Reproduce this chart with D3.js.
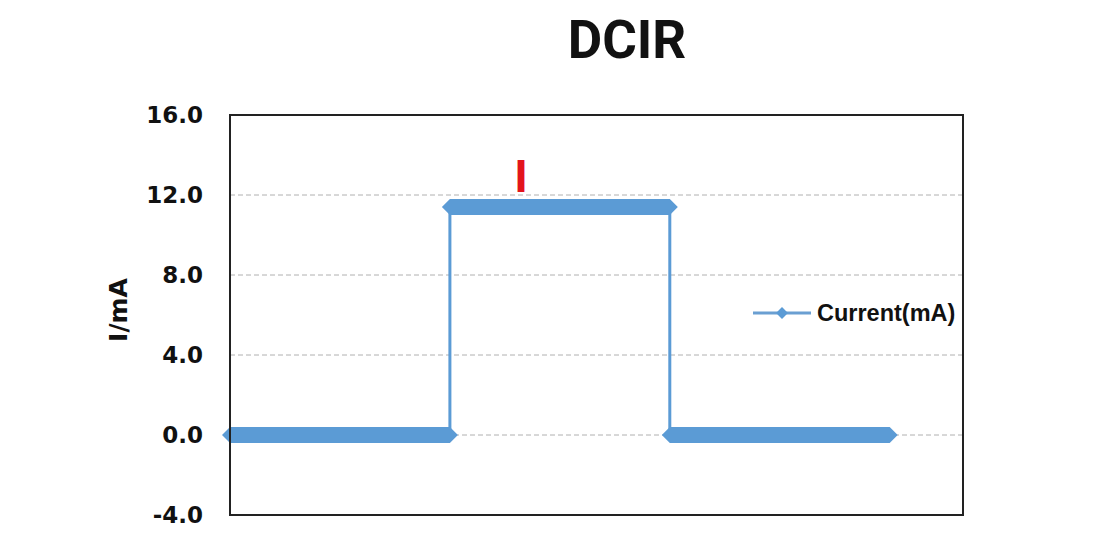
<!DOCTYPE html>
<html>
<head>
<meta charset="utf-8">
<script src="https://cdn.jsdelivr.net/npm/d3@7"></script>
<style>
  html, body { margin: 0; padding: 0; background: #fff; }
  svg { display: block; }
</style>
</head>
<body>
<svg id="chart" width="1100" height="542"></svg>
<script>
// ---- data ----
const title = "DCIR";
const yAxisTitle = "I/mA";
const seriesName = "Current(mA)";
const annotation = "I";
const timeSec = [0, 30, 30, 60, 60, 90];          // step corners (s)
const currentMA = [0, 0, 11.4, 11.4, 0, 0];       // current (mA)
const yTicks = [-4, 0, 4, 8, 12, 16];
const annotationPoint = [39.7, 11.4];

// ---- layout ----
const svg = d3.select("#chart");
const m = { left: 230, right: 963, top: 115, bottom: 515 };
const x = d3.scaleLinear().domain([0, 100]).range([m.left, m.right]);
const y = d3.scaleLinear().domain([-4, 16]).range([m.bottom, m.top]);
const blue = "#5b9bd5";

// title
svg.append("text")
  .attr("x", 627).attr("y", 58)
  .attr("text-anchor", "middle")
  .style("font-family", "Roboto, 'Liberation Sans', sans-serif")
  .style("font-weight", "bold")
  .style("font-size", "53px")
  .attr("fill", "#111")
  .text(title);

// gridlines
svg.append("g").selectAll("line")
  .data(yTicks.filter(d => d > -4 && d < 16))
  .join("line")
  .attr("x1", m.left).attr("x2", m.right)
  .attr("y1", d => y(d)).attr("y2", d => y(d))
  .attr("stroke", "#b0b0b0")
  .attr("stroke-width", 1)
  .attr("stroke-dasharray", "5,3");

// y axis labels
const yAxis = d3.axisLeft(y).tickValues(yTicks).tickFormat(d => d.toFixed(1)).tickSize(0).tickPadding(27);
const gy = svg.append("g").attr("transform", `translate(${m.left},0)`).call(yAxis);
gy.select(".domain").remove();
gy.selectAll("text")
  .style("font-family", "'DejaVu Sans', sans-serif")
  .style("font-weight", "bold")
  .style("font-size", "23px")
  .attr("fill", "#111");

// y axis title
svg.append("text")
  .attr("transform", "translate(127,310) rotate(-90)")
  .attr("text-anchor", "middle")
  .style("font-family", "'DejaVu Sans', sans-serif")
  .style("font-weight", "bold")
  .style("font-size", "25px")
  .attr("fill", "#111")
  .text(yAxisTitle);

// series: thin connecting line
const pts = timeSec.map((t, i) => [t, currentMA[i]]);
svg.append("path")
  .datum(pts)
  .attr("fill", "none")
  .attr("stroke", blue)
  .attr("stroke-width", 3)
  .attr("d", d3.line().x(d => x(d[0])).y(d => y(d[1])));

// dense diamond markers along each flat run -> swept diamond band
const runs = [];
for (let i = 0; i < pts.length - 1; i++) {
  if (pts[i][1] === pts[i + 1][1]) runs.push([pts[i], pts[i + 1]]);
}
const hs = 8;
svg.append("g").selectAll("path")
  .data(runs)
  .join("path")
  .attr("fill", blue)
  .attr("d", r => {
    const x1 = x(r[0][0]), x2 = x(r[1][0]), yy = y(r[0][1]);
    return `M${x1 - hs},${yy} L${x1},${yy - hs} L${x2},${yy - hs} L${x2 + hs},${yy} L${x2},${yy + hs} L${x1},${yy + hs} Z`;
  });

// plot border
svg.append("rect")
  .attr("x", m.left).attr("y", m.top)
  .attr("width", m.right - m.left).attr("height", m.bottom - m.top)
  .attr("fill", "none").attr("stroke", "#222").attr("stroke-width", 2);

// annotation
svg.append("text")
  .attr("x", x(annotationPoint[0])).attr("y", y(annotationPoint[1]) - 15)
  .attr("text-anchor", "middle")
  .style("font-family", "'Liberation Sans', Arial, sans-serif")
  .style("font-weight", "bold")
  .style("font-size", "47px")
  .attr("fill", "#e3141c")
  .text(annotation);

// legend
const lg = svg.append("g");
lg.append("line").attr("x1", 753).attr("x2", 811).attr("y1", 313).attr("y2", 313)
  .attr("stroke", "#6a9fd2").attr("stroke-width", 3);
lg.append("path").attr("transform", "translate(782,313)")
  .attr("d", d3.symbol(d3.symbolDiamond2, 90)())
  .attr("fill", blue);
lg.append("text").attr("x", 817).attr("y", 321)
  .style("font-family", "'Liberation Sans', Arial, sans-serif")
  .style("font-weight", "bold")
  .style("font-size", "23.5px")
  .attr("fill", "#111")
  .text(seriesName);
</script>
</body>
</html>
